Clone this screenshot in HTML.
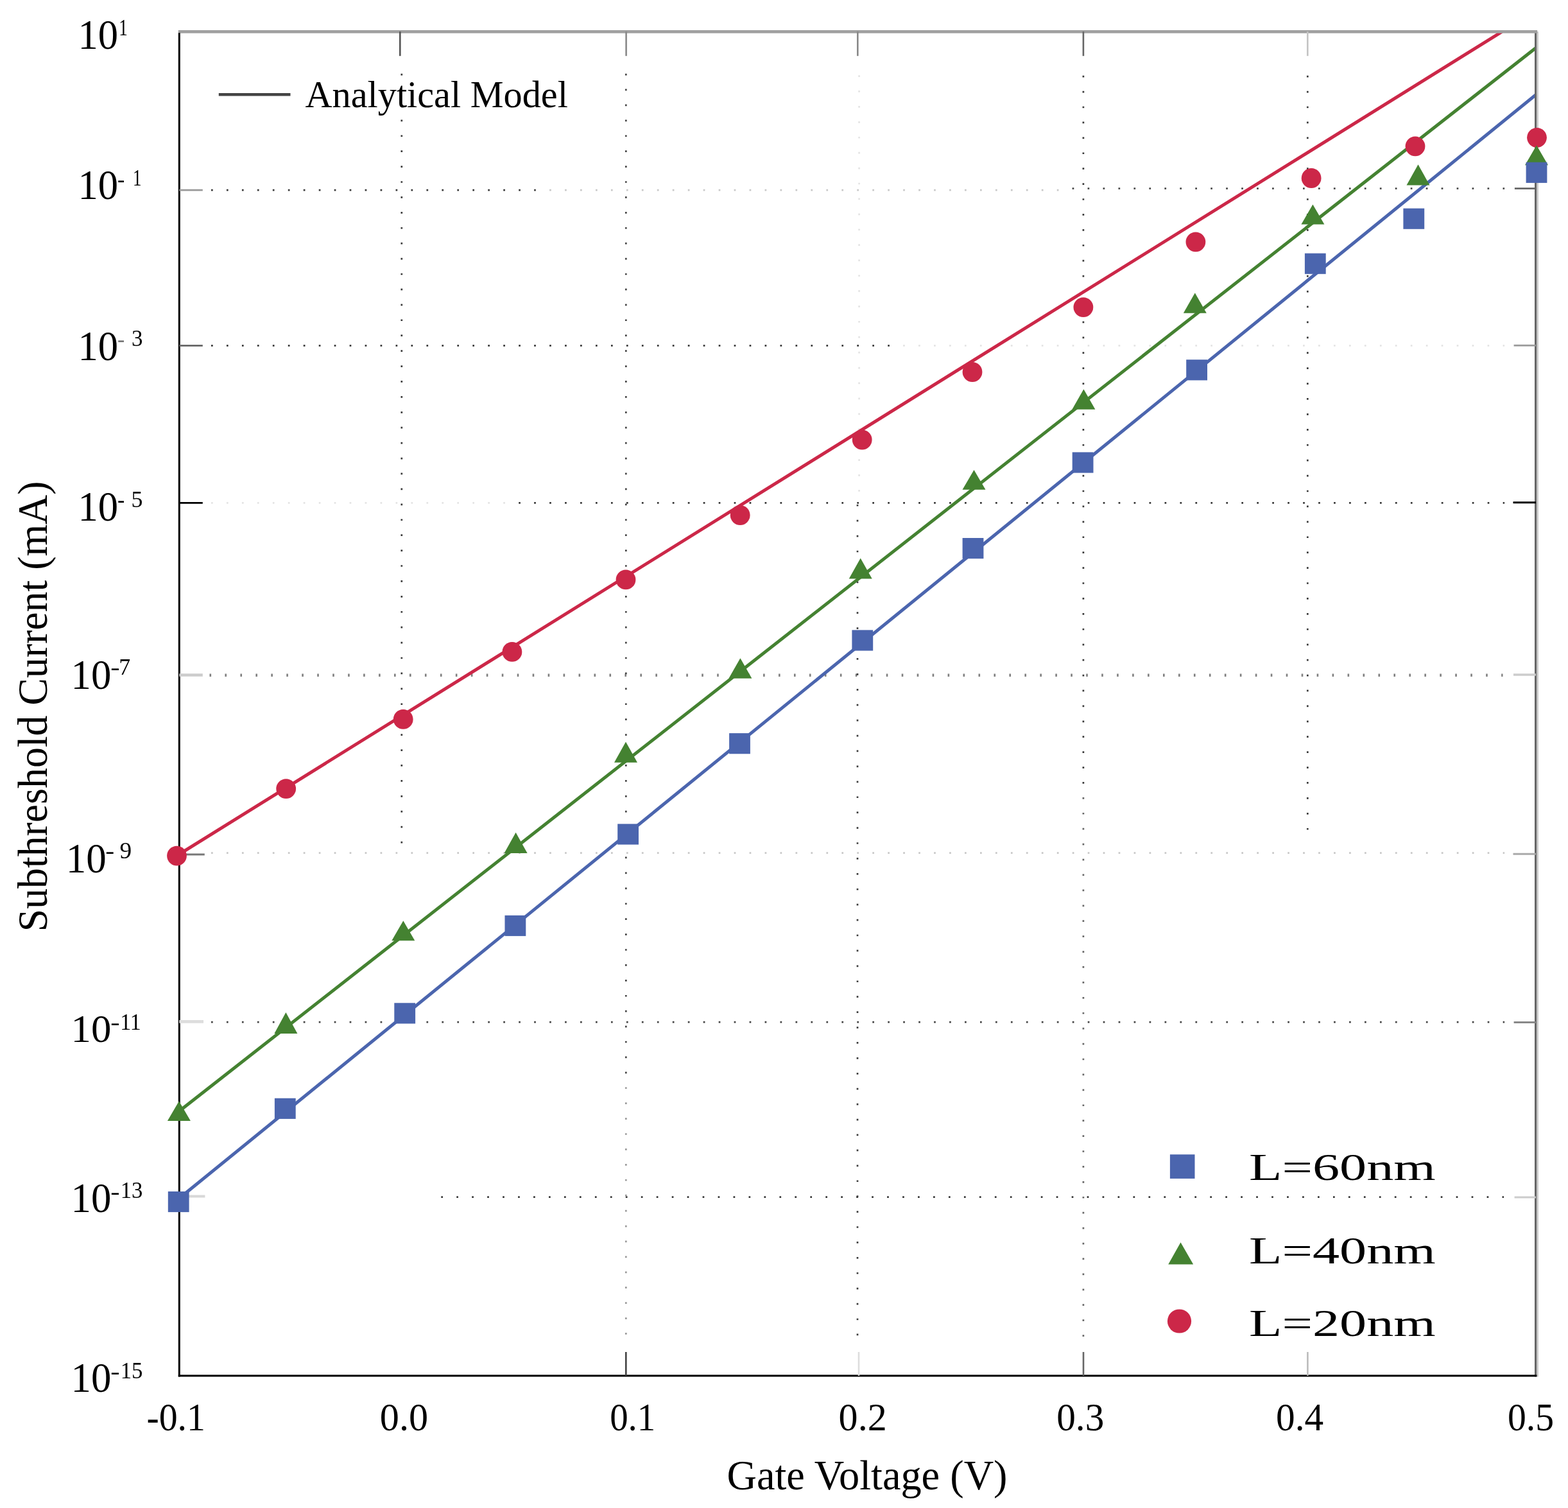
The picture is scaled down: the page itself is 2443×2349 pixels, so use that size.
<!DOCTYPE html>
<html lang="en">
<head>
<meta charset="utf-8">
<title>Subthreshold Current vs Gate Voltage</title>
<style>
html,body{margin:0;padding:0;background:#fff;}
body{width:2443px;height:2349px;overflow:hidden;}
svg{display:block;font-family:"Liberation Serif",serif;fill:#000;}
</style>
</head>
<body>
<svg width="2443" height="2349" viewBox="0 0 2443 2349">
<defs>
<clipPath id="plotclip"><rect x="279.3" y="49.2" width="2114.7" height="2093.8"/></clipPath>
<filter id="soft" x="0" y="0" width="2443" height="2349" filterUnits="userSpaceOnUse" color-interpolation-filters="sRGB"><feGaussianBlur stdDeviation="0.55"/></filter>
</defs>
<rect width="2443" height="2349" fill="#fff"/>
<g id="chart" filter="url(#soft)">
<rect width="2443" height="2349" fill="#fff"/>
<g id="grid">
<line x1="329.0" y1="296.2" x2="834.8" y2="296.2" stroke="#383838" stroke-width="2.7" stroke-dasharray="2.7 21.26"/>
<line x1="856.1" y1="296.2" x2="1649.4" y2="296.2" stroke="#c8c8c8" stroke-width="2.7" stroke-dasharray="2.7 21.26"/>
<line x1="1670.6" y1="293.6" x2="2344.1" y2="293.6" stroke="#4a4a4a" stroke-width="2.7" stroke-dasharray="2.7 21.26"/>
<line x1="329.0" y1="538.3" x2="1385.9" y2="538.3" stroke="#383838" stroke-width="2.7" stroke-dasharray="2.7 21.26"/>
<line x1="1407.1" y1="538.3" x2="2344.1" y2="538.3" stroke="#e4e4e4" stroke-width="2.7" stroke-dasharray="2.7 21.26"/>
<line x1="329.0" y1="783.3" x2="786.9" y2="783.3" stroke="#e4e4e4" stroke-width="2.7" stroke-dasharray="2.7 21.26"/>
<line x1="808.2" y1="783.3" x2="2344.1" y2="783.3" stroke="#383838" stroke-width="2.7" stroke-dasharray="2.7 21.26"/>
<line x1="326.5" y1="1051.8" x2="2341.5" y2="1051.8" stroke="#808080" stroke-width="4.4" stroke-dasharray="2.6 21.36"/>
<line x1="329.0" y1="1328.6" x2="2344.1" y2="1328.6" stroke="#c8c8c8" stroke-width="2.7" stroke-dasharray="2.7 21.26"/>
<line x1="329.0" y1="1592.2" x2="2344.1" y2="1592.2" stroke="#444" stroke-width="2.7" stroke-dasharray="2.7 21.26"/>
<line x1="687.3" y1="1864.6" x2="2343.0" y2="1864.6" stroke="#383838" stroke-width="2.7" stroke-dasharray="2.7 21.26"/>
<line x1="625.8" y1="114.7" x2="625.8" y2="1313.4" stroke="#383838" stroke-width="2.7" stroke-dasharray="2.7 21.22"/>
<line x1="975.3" y1="114.7" x2="975.3" y2="1672.2" stroke="#444" stroke-width="2.7" stroke-dasharray="2.7 21.22"/>
<line x1="975.3" y1="1693.4" x2="975.3" y2="2078.8" stroke="#999" stroke-width="2.7" stroke-dasharray="2.7 21.22"/>
<line x1="1338.6" y1="117.2" x2="1338.6" y2="765.8" stroke="#e4e4e4" stroke-width="2.7" stroke-dasharray="2.7 21.22"/>
<line x1="1336.0" y1="785.9" x2="1336.0" y2="2080.3" stroke="#3a3a3a" stroke-width="2.7" stroke-dasharray="2.7 21.22"/>
<line x1="1687.9" y1="117.8" x2="1687.9" y2="1220.8" stroke="#383838" stroke-width="2.7" stroke-dasharray="2.7 21.22"/>
<line x1="1687.9" y1="1242.0" x2="1687.9" y2="2081.9" stroke="#666" stroke-width="2.7" stroke-dasharray="2.7 21.22"/>
<line x1="2037.3" y1="117.8" x2="2037.3" y2="1292.5" stroke="#383838" stroke-width="2.7" stroke-dasharray="2.7 21.22"/>
</g>
<g id="lines" clip-path="url(#plotclip)" stroke-width="5.0" fill="none">
<line x1="279" y1="1330.8" x2="2340.1" y2="49.4" stroke="#cc2748"/>
<line x1="279" y1="1731" x2="2394" y2="73.8" stroke="#448231"/>
<line x1="279" y1="1866.8" x2="2394" y2="146.8" stroke="#4b65ae"/>
</g>
<g id="axes">
<line x1="2392.7" y1="49.2" x2="2392.7" y2="2144.5" stroke="#666" stroke-width="3.4"/>
<line x1="2395.6" y1="49.2" x2="2395.6" y2="2144.5" stroke="#c8c8c8" stroke-width="2.5"/>
<line x1="277.8" y1="49.4" x2="2395.2" y2="49.4" stroke="#a0a0a0" stroke-width="4.8"/>
<line x1="279.3" y1="51.2" x2="279.3" y2="2144.5" stroke="#000" stroke-width="3"/>
<line x1="277.8" y1="2143.0" x2="2394.4" y2="2143.0" stroke="#000" stroke-width="3"/>
</g>
<g id="ticks" stroke-width="2.6">
<line x1="279.3" y1="296.2" x2="315.8" y2="296.2" stroke="#999" stroke-width="2.8"/>
<line x1="279.3" y1="538.3" x2="315.8" y2="538.3" stroke="#666" stroke-width="2.8"/>
<line x1="279.3" y1="783.3" x2="315.8" y2="783.3" stroke="#000" stroke-width="2.8"/>
<line x1="279.3" y1="1051.5" x2="315.8" y2="1051.5" stroke="#ccc" stroke-width="4.6"/>
<line x1="279.3" y1="1331.0" x2="318.8" y2="1331.0" stroke="#777" stroke-width="2.8"/>
<line x1="279.3" y1="1591.4" x2="317.0" y2="1591.4" stroke="#ddd" stroke-width="4.6"/>
<line x1="279.3" y1="1863.5" x2="319.4" y2="1863.5" stroke="#d8d8d8" stroke-width="4.2"/>
<line x1="2359.9" y1="293.6" x2="2393" y2="293.6" stroke="#666" stroke-width="2.9"/>
<line x1="2358.6" y1="538.1" x2="2393" y2="538.1" stroke="#999" stroke-width="2.8"/>
<line x1="2357.5" y1="782.8" x2="2393" y2="782.8" stroke="#000" stroke-width="2.9"/>
<line x1="2358.0" y1="1051.0" x2="2393" y2="1051.0" stroke="#ccc" stroke-width="3.6"/>
<line x1="2357.5" y1="1330.2" x2="2393" y2="1330.2" stroke="#aaa" stroke-width="3.0"/>
<line x1="2358.6" y1="1592.4" x2="2393" y2="1592.4" stroke="#888" stroke-width="3.0"/>
<line x1="2359.6" y1="1865.0" x2="2393" y2="1865.0" stroke="#ccc" stroke-width="3.0"/>
<line x1="975.3" y1="2106" x2="975.3" y2="2143.0" stroke="#444"/>
<line x1="1338.0" y1="2106" x2="1338.0" y2="2143.0" stroke="#ddd"/>
<line x1="1688.0" y1="2106" x2="1688.0" y2="2143.0" stroke="#666"/>
<line x1="2037.4" y1="2106" x2="2037.4" y2="2143.0" stroke="#bbb"/>
<line x1="623.3" y1="49.2" x2="623.3" y2="87.2" stroke="#555"/>
<line x1="975.6" y1="49.2" x2="975.6" y2="87.2" stroke="#888"/>
<line x1="1336.3" y1="49.2" x2="1336.3" y2="87.2" stroke="#888"/>
<line x1="1687.9" y1="49.2" x2="1687.9" y2="87.2" stroke="#666"/>
<line x1="2037.3" y1="49.2" x2="2037.3" y2="87.2" stroke="#c4c4c4"/>
</g>
<g id="markers">
<g fill="#cc2748">
<circle cx="275.5" cy="1333.1" r="15.4"/>
<circle cx="445.7" cy="1228.6" r="15.4"/>
<circle cx="628.2" cy="1120.4" r="15.4"/>
<circle cx="797.9" cy="1015.4" r="15.4"/>
<circle cx="975.0" cy="902.9" r="15.4"/>
<circle cx="1153.2" cy="802.5" r="15.4"/>
<circle cx="1343.2" cy="685.0" r="15.4"/>
<circle cx="1515.0" cy="579.5" r="15.4"/>
<circle cx="1687.9" cy="478.6" r="15.4"/>
<circle cx="1862.9" cy="376.8" r="15.4"/>
<circle cx="2043.1" cy="277.5" r="15.4"/>
<circle cx="2205.0" cy="227.8" r="15.4"/>
<circle cx="2394.5" cy="214.3" r="15.4"/>
</g><g fill="#448231">
<polygon points="278.9,1715.3 296.9,1746.0 260.9,1746.0"/>
<polygon points="445.4,1577.1 463.4,1609.9 427.4,1609.9"/>
<polygon points="628.3,1434.2 646.3,1465.3 610.3,1465.3"/>
<polygon points="803.6,1296.7 821.6,1328.9 785.6,1328.9"/>
<polygon points="975.0,1155.6 993.0,1187.8 957.0,1187.8"/>
<polygon points="1153.4,1025.3 1171.4,1056.7 1135.4,1056.7"/>
<polygon points="1340.7,869.6 1358.7,901.4 1322.7,901.4"/>
<polygon points="1517.5,732.1 1535.5,762.8 1499.5,762.8"/>
<polygon points="1688.4,606.3 1706.4,637.8 1670.4,637.8"/>
<polygon points="1861.8,456.3 1879.8,487.8 1843.8,487.8"/>
<polygon points="2045.4,318.4 2063.4,349.5 2027.4,349.5"/>
<polygon points="2209.5,256.3 2227.5,288.6 2191.5,288.6"/>
<polygon points="2394.0,226.2 2412.0,257.3 2376.0,257.3"/>
</g><g fill="#4b65ae">
<rect x="261.8" y="1855.9" width="32.8" height="32.2"/>
<rect x="427.9" y="1710.7" width="32.8" height="32.2"/>
<rect x="614.3" y="1562.3" width="32.8" height="32.2"/>
<rect x="786.5" y="1425.9" width="32.8" height="32.2"/>
<rect x="962.2" y="1283.4" width="32.8" height="32.2"/>
<rect x="1136.1" y="1142.1" width="32.8" height="32.2"/>
<rect x="1327.4" y="981.4" width="32.8" height="32.2"/>
<rect x="1499.6" y="838.0" width="32.8" height="32.2"/>
<rect x="1670.7" y="704.4" width="32.8" height="32.2"/>
<rect x="1848.2" y="560.2" width="32.8" height="32.2"/>
<rect x="2032.9" y="394.6" width="32.8" height="32.2"/>
<rect x="2186.4" y="324.6" width="32.8" height="32.2"/>
<rect x="2377.6" y="252.7" width="32.8" height="32.2"/>
</g></g>
<g id="legend">
<rect x="468" y="121" width="424" height="64" fill="#fff"/>
<line x1="340.8" y1="147.3" x2="452.5" y2="147.3" stroke="#444" stroke-width="4.6"/>
<text transform="translate(475.52,166.50) scale(0.9713,1)" font-size="60">Analytical Model</text>
<rect x="1822.9" y="1798.3" width="38.6" height="37.6" fill="#4b65ae"/>
<polygon points="1839.5,1935.3 1859.2,1969.6 1820.2,1969.6" fill="#448231"/>
<circle cx="1837.5" cy="2058.0" r="18.6" fill="#cc2748"/>
<text transform="translate(1946.04,1838.40) scale(1.4036,1)" font-size="60">L=60nm</text>
<text transform="translate(1946.04,1967.70) scale(1.4036,1)" font-size="60">L=40nm</text>
<text transform="translate(1946.04,2080.90) scale(1.4036,1)" font-size="60">L=20nm</text>
</g>
<g id="xlabels">
<text transform="translate(228.40,2228.20) scale(0.9487,1)" font-size="61">-0.1</text>
<text transform="translate(591.81,2228.20) scale(0.9872,1)" font-size="61">0.0</text>
<text transform="translate(950.14,2228.20) scale(0.9335,1)" font-size="61">0.1</text>
<text transform="translate(1306.62,2228.20) scale(0.9842,1)" font-size="61">0.2</text>
<text transform="translate(1646.25,2228.20) scale(0.9707,1)" font-size="61">0.3</text>
<text transform="translate(1988.05,2228.20) scale(0.9718,1)" font-size="61">0.4</text>
<text transform="translate(2349.01,2228.20) scale(0.9456,1)" font-size="61">0.5</text>
</g>
<g id="ylabels">
<g class="ytick"><text transform="translate(121.48,76.40) scale(0.9646,1)" font-size="65">10</text><text transform="translate(185.22,54.80) scale(0.7394,1)" font-size="36.5">1</text></g>
<g class="ytick"><text transform="translate(121.48,310.40) scale(0.9646,1)" font-size="65">10</text><text transform="translate(183.12,291.08) scale(0.9239,1)" font-size="36.5">-</text><text transform="translate(206.93,288.80) scale(0.7394,1)" font-size="36.5">1</text></g>
<g class="ytick"><text transform="translate(121.48,561.00) scale(0.9646,1)" font-size="65">10</text><text transform="translate(183.12,540.48) scale(0.9239,1)" font-size="36.5" fill="#777">-</text><text transform="translate(205.02,539.40) scale(0.9576,1)" font-size="36.5">3</text></g>
<g class="ytick"><text transform="translate(121.48,811.40) scale(0.9646,1)" font-size="65">10</text><text transform="translate(183.12,789.58) scale(0.9239,1)" font-size="36.5">-</text><text transform="translate(204.62,789.80) scale(0.9814,1)" font-size="36.5">5</text></g>
<g class="ytick"><text transform="translate(110.57,1072.90) scale(0.9664,1)" font-size="65">10</text><text transform="translate(172.27,1051.08) scale(1.1787,1)" font-size="36.5">-</text><text transform="translate(185.23,1051.30) scale(0.9852,1)" font-size="36.5">7</text></g>
<g class="ytick"><text transform="translate(102.65,1359.30) scale(0.9699,1)" font-size="65">10</text><text transform="translate(164.31,1336.88) scale(1.1469,1)" font-size="36.5">-</text><text transform="translate(186.41,1337.30) scale(1.0226,1)" font-size="36.5">9</text></g>
<g class="ytick"><text transform="translate(110.57,1623.30) scale(1.0214,1)" font-size="61.5">10</text><text transform="translate(172.27,1603.78) scale(1.1787,1)" font-size="36.5">-</text><text transform="translate(187.13,1604.20) scale(0.9256,1)" font-size="36.5">11</text></g>
<g class="ytick"><text transform="translate(110.57,1887.60) scale(0.9664,1)" font-size="65">10</text><text transform="translate(172.27,1867.88) scale(1.1787,1)" font-size="36.5">-</text><text transform="translate(187.74,1866.10) scale(0.9520,1)" font-size="36.5">13</text></g>
<g class="ytick"><text transform="translate(110.57,2168.30) scale(0.9664,1)" font-size="65">10</text><text transform="translate(172.27,2148.48) scale(1.1787,1)" font-size="36.5">-</text><text transform="translate(187.74,2146.70) scale(0.9520,1)" font-size="36.5">15</text></g>
</g>
<text transform="translate(1132.50,2320.00) scale(0.9896,1)" font-size="65">Gate Voltage (V)</text>
<text transform="translate(72.70,1451.31) rotate(-90) scale(0.9667,1)" font-size="66">Subthreshold Current (mA)</text>
</g>
</svg>
</body>
</html>
